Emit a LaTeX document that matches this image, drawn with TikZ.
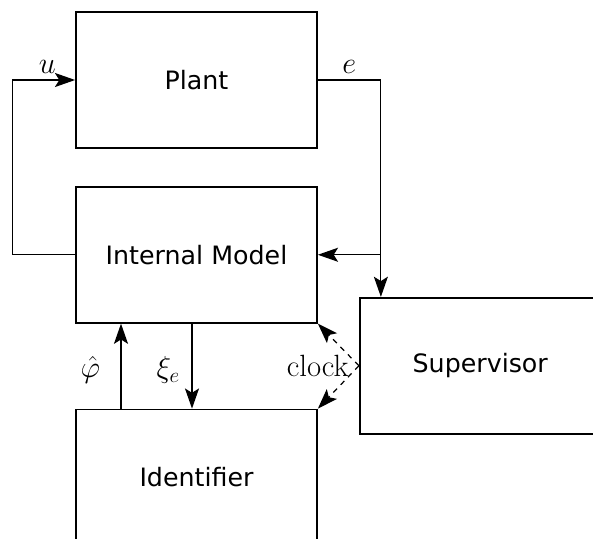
\documentclass[tikz,border=0pt]{standalone}
\usepackage{fontspec}
\newfontfamily\blockfont{DejaVu Sans}
\usetikzlibrary{arrows.meta,positioning,calc}
\tikzset{
blockbox/.style={rectangle,draw=black,line width=1pt,minimum width=4.82cm,
  minimum height=2.72cm,align=center,font=\blockfont\fontsize{14.4}{17}\selectfont},
sigline/.style={line width=0.7pt,-{Stealth[length=11.5pt,width=8pt,inset=2.5pt]}},
clockline/.style={sigline,dash pattern=on 3pt off 3pt},
siglabel/.style={font=\fontsize{17.5}{20}\selectfont}
}

\begin{document}
\begin{tikzpicture}[siglabel]
\useasboundingbox (0,0) rectangle (11.86,-10.76);
\clip (0,0) rectangle (11.86,-10.76);
\node[blockbox] at (3.93,-1.60) (plant) {Plant};
\node[blockbox,below=0.74cm of plant] (im) {Internal Model};
\node[blockbox,below=1.7cm of im] (ident) {Identifier};
\node[blockbox,right=0.82cm of im,yshift=-2.22cm] (sup) {Supervisor};
\node[left=0.2cm of sup.west,inner sep=0pt] (clk) {clock};
% control loop back into the plant
\coordinate (ul) at ($(im.west)+(-1.26,0)$);
\draw[sigline] (im.west) -- (ul) |- node[pos=0.78,above] {$u$} (plant.west);
% error goes to the model and the supervisor
\coordinate (eb) at ($(plant.east)+(1.26,0)$);
\coordinate (br) at (eb |- im.east);
\draw[sigline] (plant.east) -- node[above] {$e$} (eb) |- (im.east);
\draw[sigline] (br) -- (br |- sup.north);
% model <-> identifier
\draw[sigline] ($(ident.north)+(-1.51,0)$) -- node[pos=0.45,left=0.29cm] {$\hat\varphi$} ($(im.south)+(-1.51,0)$);
\draw[sigline] ($(im.south)+(-0.09,0)$) -- node[pos=0.55,left=0.11cm] {$\xi_e$} ($(ident.north)+(-0.09,0)$);
% clock from the supervisor
\draw[clockline] (sup.west) -- (im.south east);
\draw[clockline] (sup.west) -- (ident.north east);
\end{tikzpicture}
\end{document}
